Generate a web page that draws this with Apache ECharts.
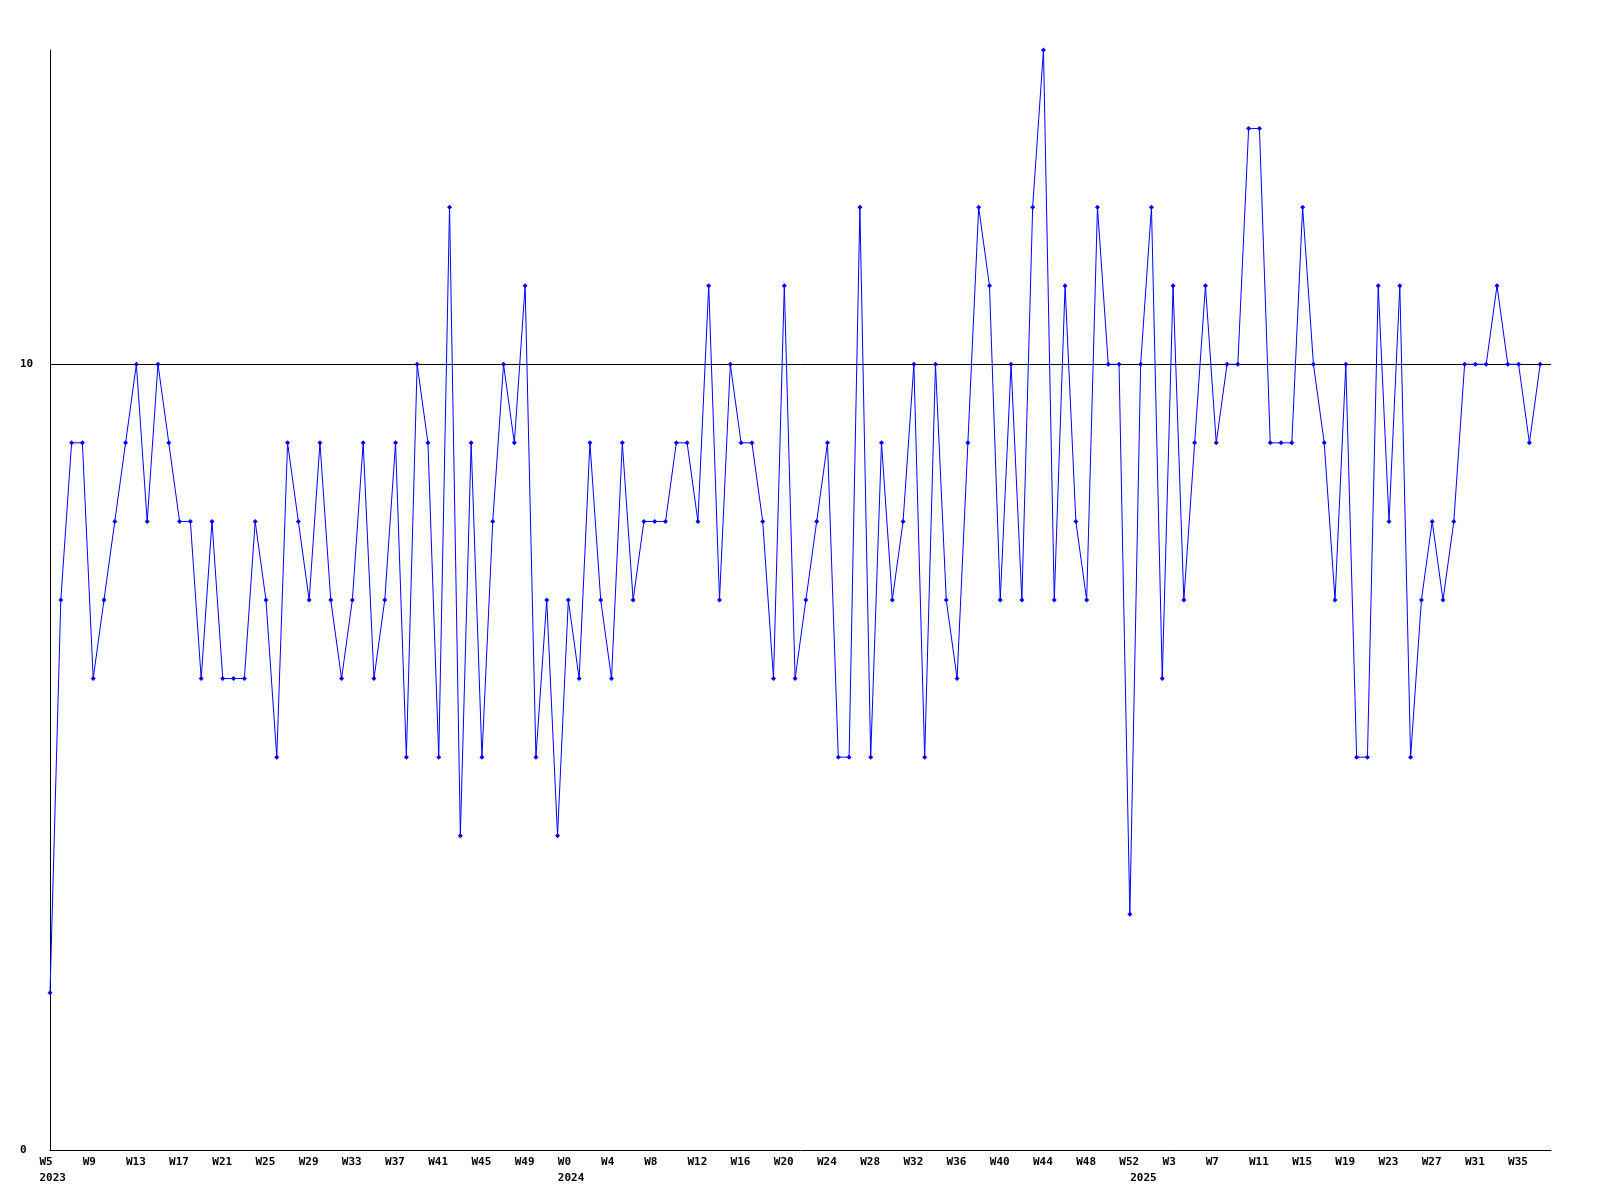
<!DOCTYPE html>
<html>
<head>
<meta charset="utf-8">
<script src="https://cdn.jsdelivr.net/npm/echarts@6/dist/echarts.min.js"></script>
<style>
html,body{margin:0;padding:0;background:#fff;}
#chart{width:1600px;height:1200px;}
</style>
</head>
<body>
<div id="chart"></div>
<script>
// Week ranges per year (week numbers as labelled on the axis)
const years = [2023, 2024, 2025];
const firstWeek = [5, 0, 0];
const lastWeek = [52, 52, 37];

// Weekly values
const values = [
  2,7,9,9,6,7,8,9,10,8,
  10,9,8,8,6,8,6,6,6,8,
  7,5,9,8,7,9,7,6,7,9,
  6,7,9,5,10,9,5,12,4,9,
  5,8,10,9,11,5,7,4,7,6,
  9,7,6,9,7,8,8,8,9,9,
  8,11,7,10,9,9,8,6,11,6,
  7,8,9,5,5,12,5,9,7,8,
  10,5,10,7,6,9,12,11,7,10,
  7,12,14,7,11,8,7,12,10,10,
  3,10,12,6,11,7,9,11,9,10,
  10,13,13,9,9,9,12,10,9,7,
  10,5,5,11,8,11,5,7,8,7,
  8,10,10,10,11,10,10,9,10
];

const yTickLabels = ['0', '10'];

// Build categories
const weekNum = [];
const weekYear = [];
const categories = [];
const yearStart = {};
years.forEach((y, k) => {
  for (let w = firstWeek[k]; w <= lastWeek[k]; w++) {
    if (w === firstWeek[k]) yearStart[categories.length] = y;
    weekNum.push(w);
    weekYear.push(y);
    categories.push(y + '-W' + w);
  }
});

const FONT = 'DejaVu Sans Mono';
const labelRich = {
  a: { width: 21, align: 'left', fontFamily: FONT, fontSize: 11, fontWeight: 'bold', color: '#000' }
};

const chart = echarts.init(document.getElementById('chart'), null, { renderer: 'canvas' });
chart.setOption({
  animation: false,
  backgroundColor: '#fff',
  grid: { left: 50, right: 49, top: 50, bottom: 50, containLabel: false },
  xAxis: [
    {
      type: 'category',
      data: categories,
      boundaryGap: false,
      max: categories.length,
      axisLine: { show: true, lineStyle: { color: '#000', width: 1 } },
      axisTick: { show: false },
      splitLine: { show: false },
      axisLabel: {
        interval: 3,
        margin: 7,
        formatter: (v, i) => '{a|W' + weekNum[i] + '}',
        rich: labelRich
      }
    },
    {
      type: 'category',
      data: categories,
      position: 'bottom',
      boundaryGap: false,
      max: categories.length,
      axisLine: { show: false },
      axisTick: { show: false },
      splitLine: { show: false },
      axisLabel: {
        interval: (i) => yearStart[i] !== undefined,
        margin: 23,
        formatter: (v, i) => '{a|' + weekYear[i] + '}',
        rich: labelRich
      }
    }
  ],
  yAxis: {
    type: 'value',
    min: 0,
    max: 14,
    interval: 10,
    axisLine: { show: true, lineStyle: { color: '#000', width: 1 } },
    axisTick: { show: false },
    splitLine: { show: true, showMinLine: false, showMaxLine: false, lineStyle: { color: '#000', width: 1 } },
    axisLabel: {
      showMaxLabel: false,
      align: 'left',
      margin: 30,
      fontFamily: FONT,
      fontSize: 11,
      fontWeight: 'bold',
      color: '#000',
      formatter: (v) => yTickLabels.indexOf(String(v)) >= 0 ? String(v) : ''
    }
  },
  series: [{
    type: 'line',
    xAxisIndex: 0,
    data: values,
    symbol: 'diamond',
    symbolSize: 5,
    showAllSymbol: true,
    lineStyle: { color: '#0000ff', width: 1 },
    itemStyle: { color: '#0000ff' },
    emphasis: { disabled: true }
  }]
});
</script>
</body>
</html>
